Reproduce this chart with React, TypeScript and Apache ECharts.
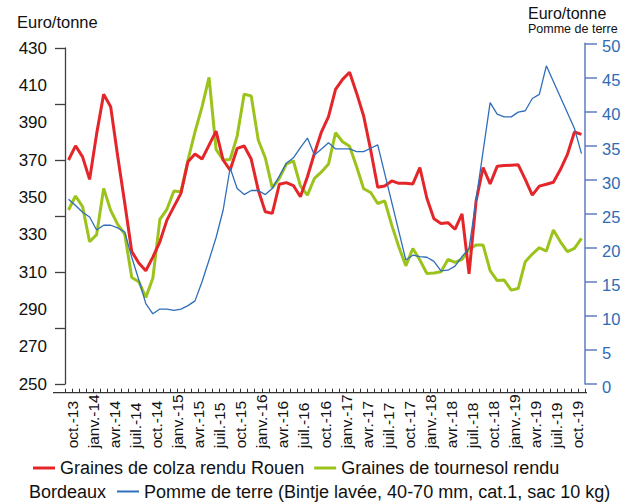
import React, { useEffect, useRef } from 'react';
import * as echarts from 'echarts';

const MONTH_NAMES = ['janv.', 'févr.', 'mars', 'avr.', 'mai', 'juin', 'juil.', 'août', 'sept.', 'oct.', 'nov.', 'déc.'];
const START_YEAR = 2013;
const START_MONTH = 8; // septembre 2013
const N_MONTHS = 74; // sept.-13 .. oct.-19
const LABELED_MONTHS = ['janv.', 'avr.', 'juil.', 'oct.'];

function monthLabel(k: number): string {
  const m = (START_MONTH + k) % 12;
  const y = START_YEAR + Math.floor((START_MONTH + k) / 12);
  return MONTH_NAMES[m] + '-' + String(y % 100).padStart(2, '0');
}
const months = Array.from({ length: N_MONTHS }, (_, k) => monthLabel(k));
const tickMonths = Array.from({ length: N_MONTHS + 1 }, (_, k) => monthLabel(k));

const leftLabelValues = [250, 270, 290, 310, 330, 350, 370, 390, 410, 430];
const leftTickValues = [250, 280, 310, 340, 370, 400, 430];

const NAME_RED = 'Graines de colza rendu Rouen';
const NAME_GREEN = 'Graines de tournesol rendu Bordeaux';
const NAME_BLUE = 'Pomme de terre (Bintje lavée, 40-70 mm, cat.1, sac 10 kg)';

const colza = [370, 377.6, 371.7, 359.6, 384, 405.2, 398.5, 372, 347, 321,
  314.8, 310.7, 318, 326.2, 337.8, 345, 352.1, 369.1, 373.2, 370.5,
  378, 385.5, 370, 364.6, 376.2, 377.5, 370.5, 353.9, 342.3, 341.4,
  357, 357.9, 356.3, 350.3, 361, 373.6, 385.1, 393.2, 407.8, 413.2,
  417, 405.8, 393.6, 375.4, 355.4, 356.1, 358.8, 357.5, 357.5, 357.2,
  365.9, 349.5, 338.5, 336, 336.4, 332.9, 341.1, 309, 348, 366,
  357.2, 366.6, 367, 367.2, 367.4, 359.6, 351.2, 356, 357, 358.1,
  364.9, 373, 385, 383.7];

const tournesol = [343.2, 350.7, 345, 326.2, 330, 354.8, 343, 335.5, 330.3, 307.1,
  304.8, 296.4, 306.6, 338.2, 343.6, 353.4, 353, 370, 385.1, 398.5,
  414.3, 375.7, 370, 370.3, 382.8, 405.3, 404.3, 380.7, 371.2, 355.1,
  360.2, 367.8, 369.6, 356.1, 351.2, 360.2, 363.6, 367.8, 384.6, 379.8,
  377.3, 366.4, 354.6, 352.6, 346.7, 348.1, 335.1, 323.5, 313.3, 322.6,
  316.4, 309.2, 309.5, 310.1, 316.7, 315.1, 316.7, 322.3, 324.4, 324.4,
  310.7, 305.4, 305.7, 300.3, 301.2, 315.5, 319.6, 323, 321.2, 332.5,
  326.2, 320.9, 322.6, 328];

const pomme = [27.1, 26.2, 25.2, 24.5, 22.6, 23.3, 23.3, 22.9, 22.3, 18.6,
  15.3, 11.8, 10.3, 11.0, 11.0, 10.8, 11.0, 11.5, 12.2, 15.0,
  18.2, 21.5, 25.5, 31.7, 28.7, 27.8, 28.4, 28.4, 27.8, 28.7,
  30.5, 32.4, 33.2, 34.7, 36.1, 33.6, 34.5, 35.4, 34.5, 34.5,
  34.5, 34.1, 34.1, 34.6, 35.1, null, null, null, 18.2, 18.9,
  18.7, 18.6, 18.0, 16.6, 16.7, 17.3, 18.7, 19.9, null, null,
  41.3, 39.6, 39.2, 39.2, 39.9, 40.1, 41.9, 42.5, 46.7, null,
  null, null, 37.5, 33.8];

const RED = '#e4262a';
const GREEN = '#9cc31c';
const BLUE = '#2f6eba';
const RIGHT_AXIS = '#5f7cc0';
const RIGHT_LABEL = '#2e6cb5';
const FONT = '"Liberation Sans", Arial, sans-serif';

export default function App() {
  const ref = useRef<HTMLDivElement>(null);
  useEffect(() => {
    const chart = echarts.init(ref.current!, null, { renderer: 'svg' });
    const option: any = {
      animation: false,
      backgroundColor: '#ffffff',
      textStyle: { fontFamily: FONT },
      title: [
        { text: 'Euro/tonne', left: 17, top: 13, padding: 0, textStyle: { fontSize: 16.5, fontWeight: 'normal', color: '#111', fontFamily: FONT } },
        { text: 'Euro/tonne', left: 528, top: 5, padding: 0, textStyle: { fontSize: 16, fontWeight: 'normal', color: '#111', fontFamily: FONT } },
        { text: 'Pomme de terre', left: 528, top: 22.5, padding: 0, textStyle: { fontSize: 12.5, fontWeight: 'normal', color: '#111', fontFamily: FONT } },
      ],
      legend: [
        {
          data: [NAME_RED, NAME_GREEN], left: 33, top: 459, padding: 0,
          icon: 'rect', itemWidth: 22, itemHeight: 3, itemGap: 10,
          textStyle: { fontSize: 18, color: '#111', fontFamily: FONT },
          formatter: (n: string) => (n === NAME_GREEN ? 'Graines de tournesol rendu' : n),
        },
        {
          data: [NAME_BLUE], left: 117, top: 482.5, padding: 0,
          icon: 'rect', itemWidth: 22, itemHeight: 2, itemGap: 10,
          textStyle: { fontSize: 18, color: '#111', fontFamily: FONT },
        },
      ],
      graphic: [
        { type: 'text', left: 29, top: 482.5, style: { text: 'Bordeaux', font: '18px ' + FONT, fill: '#111' } },
        { type: 'line', shape: { x1: 53, y1: 392.7, x2: 587, y2: 392.7 }, style: { stroke: '#333', lineWidth: 1.3 } },
      ],
      grid: [
        { left: 65, right: 54, top: 48, bottom: 118 },
        { left: 65, right: 54, top: 43.3, bottom: 118 },
      ],
      xAxis: [
        { gridIndex: 0, type: 'category', data: months, boundaryGap: true, show: false },
        { gridIndex: 1, type: 'category', data: months, boundaryGap: true, show: false },
        {
          gridIndex: 0, type: 'category', data: tickMonths, boundaryGap: false, position: 'bottom', offset: 8.7,
          axisLine: { show: false },
          axisTick: { show: true, inside: true, length: 4, interval: 0, lineStyle: { color: '#333', width: 1 } },
          axisLabel: {
            show: true, rotate: 90, align: 'left', verticalAlign: 'middle', margin: 55.6,
            fontSize: 15.5, color: '#111', fontFamily: FONT,
            interval: (_i: number, v: string) => LABELED_MONTHS.includes(v.split('-')[0]),
          },
          splitLine: { show: false },
        },
      ],
      yAxis: [
        {
          gridIndex: 0, type: 'value', min: 250, max: 430, position: 'left',
          axisLine: { show: true, lineStyle: { color: '#404040', width: 1.3 } },
          axisTick: { show: true, length: 10, customValues: leftTickValues, lineStyle: { color: '#404040', width: 1.3 } },
          axisLabel: { show: true, customValues: leftLabelValues, fontSize: 17, color: '#111', margin: 18, padding: [0, 0, 6, 0], fontFamily: FONT },
          splitLine: { show: false },
        },
        {
          gridIndex: 1, type: 'value', min: 0, max: 50, interval: 5, position: 'right',
          axisLine: { show: true, lineStyle: { color: RIGHT_AXIS, width: 1.5 } },
          axisTick: { show: true, length: 12, lineStyle: { color: RIGHT_AXIS, width: 1.5 } },
          axisLabel: {
            show: true, margin: 17, color: RIGHT_LABEL, fontSize: 16.5, fontFamily: FONT,
            formatter: (v: number) => '{v|' + v + '}',
            rich: { v: { fontSize: 16.5, color: RIGHT_LABEL, fontFamily: FONT, padding: [6, 0, 0, 0] } },
          },
          splitLine: { show: false },
        },
      ],
      series: [
        {
          name: NAME_GREEN, type: 'line', xAxisIndex: 0, yAxisIndex: 0, data: tournesol,
          symbol: 'none', lineStyle: { color: GREEN, width: 3 }, itemStyle: { color: GREEN },
        },
        {
          name: NAME_RED, type: 'line', xAxisIndex: 0, yAxisIndex: 0, data: colza,
          symbol: 'none', lineStyle: { color: RED, width: 3 }, itemStyle: { color: RED },
        },
        {
          name: NAME_BLUE, type: 'line', xAxisIndex: 1, yAxisIndex: 1, data: pomme, connectNulls: true,
          symbol: 'none', lineStyle: { color: BLUE, width: 1.3 }, itemStyle: { color: BLUE },
        },
      ],
    };
    chart.setOption(option);
    return () => chart.dispose();
  }, []);
  return <div ref={ref} style={{ position: 'absolute', left: 0, top: 0, width: 639, height: 502 }} />;
}
